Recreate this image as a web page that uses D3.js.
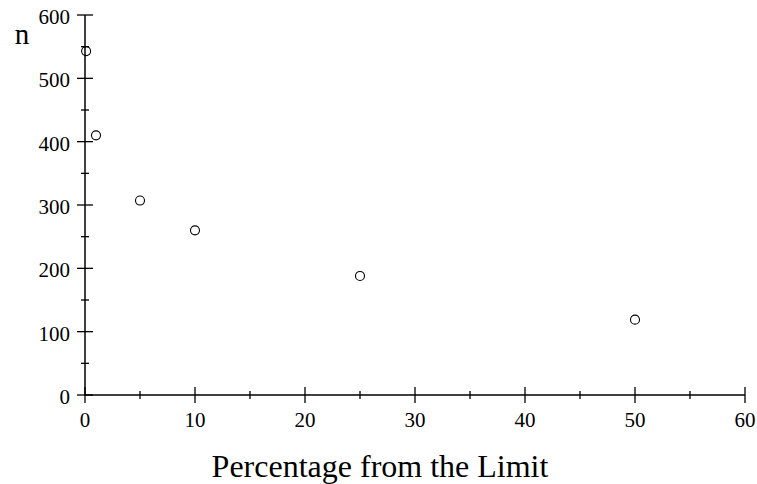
<!DOCTYPE html>
<html><head><meta charset="utf-8">
<script src="https://cdn.jsdelivr.net/npm/d3@7"></script>
<style>body{margin:0;background:#fff}svg{display:block}text{font-family:"Liberation Serif","Times New Roman",serif;fill:#000}</style>
</head><body>
<svg id="c" width="757" height="484"></svg>
<script>
const xValues = [0.1, 1, 5, 10, 25, 50];
const nValues = [543, 410, 307, 260, 188, 119];
const xMajorTicks = [0, 10, 20, 30, 40, 50, 60];
const xMinorTicks = [5, 15, 25, 35, 45, 55];
const yMajorTicks = [0, 100, 200, 300, 400, 500, 600];
const yMinorTicks = [50, 150, 250, 350, 450, 550];
const xTitle = "Percentage from the Limit";
const yTitle = "n";

const svg = d3.select("#c");
const x = d3.scaleLinear().domain([0, 60]).range([85, 745]);
const y = d3.scaleLinear().domain([0, 600]).range([395, 15]);

const g = svg.append("g");
g.append("line").attr("x1", x(0)).attr("x2", x(60)).attr("y1", y(0)).attr("y2", y(0)).attr("stroke", "#000").attr("stroke-width", 1.5);
g.append("line").attr("x1", x(0)).attr("x2", x(0)).attr("y1", y(0)).attr("y2", y(600)).attr("stroke", "#000").attr("stroke-width", 1.5);

g.selectAll(".xM").data(xMajorTicks).join("line")
  .attr("x1", d => x(d)).attr("x2", d => x(d)).attr("y1", y(0) - 8).attr("y2", y(0) + 8)
  .attr("stroke", "#000").attr("stroke-width", 1.3);
g.selectAll(".xm").data(xMinorTicks).join("line")
  .attr("x1", d => x(d)).attr("x2", d => x(d)).attr("y1", y(0) - 4).attr("y2", y(0) + 4)
  .attr("stroke", "#000").attr("stroke-width", 1.3);
g.selectAll(".xl").data(xMajorTicks).join("text")
  .attr("x", d => x(d)).attr("y", y(0) + 32).attr("text-anchor", "middle")
  .attr("font-size", 21).text(d => d);

g.selectAll(".yM").data(yMajorTicks).join("line")
  .attr("x1", x(0) - 8).attr("x2", x(0) + 8).attr("y1", d => y(d)).attr("y2", d => y(d))
  .attr("stroke", "#000").attr("stroke-width", 1.3);
g.selectAll(".ym").data(yMinorTicks).join("line")
  .attr("x1", x(0) - 4).attr("x2", x(0) + 4).attr("y1", d => y(d)).attr("y2", d => y(d))
  .attr("stroke", "#000").attr("stroke-width", 1.3);
g.selectAll(".yl").data(yMajorTicks).join("text")
  .attr("x", x(0) - 15).attr("y", d => y(d) + 9).attr("text-anchor", "end")
  .attr("font-size", 21).text(d => d);

svg.append("text").attr("x", 22).attr("y", 44).attr("text-anchor", "middle").attr("font-size", 29).text(yTitle);
svg.append("text").attr("x", 380).attr("y", 477).attr("text-anchor", "middle").attr("font-size", 32).text(xTitle);

svg.selectAll("circle").data(xValues).join("circle")
  .attr("cx", d => x(d)).attr("cy", (d, i) => y(nValues[i])).attr("r", 4.5)
  .attr("fill", "none").attr("stroke", "#000").attr("stroke-width", 1.1);
</script>
</body></html>
